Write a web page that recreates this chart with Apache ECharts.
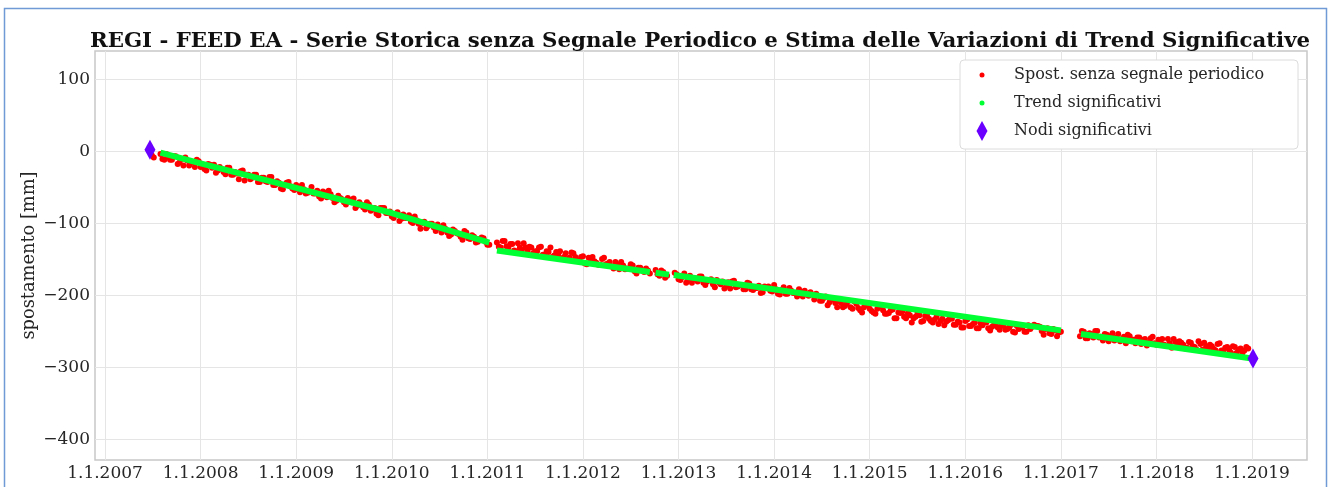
<!DOCTYPE html>
<html><head><meta charset="utf-8">
<script src="https://cdn.jsdelivr.net/npm/echarts@6/dist/echarts.min.js"></script>
<style>html,body{margin:0;padding:0;background:#fff}#c{width:1330px;height:487px}</style>
</head><body><div id="c"></div>
<script>
const titleText = 'REGI - FEED EA - Serie Storica senza Segnale Periodico e Stima delle Variazioni di Trend Significative';
const yName = 'spostamento [mm]';
const nameRed = 'Spost. senza segnale periodico';
const nameGreen = 'Trend significativi';
const nameNodes = 'Nodi significativi';
const xTicks = [2007, 2008, 2009, 2010, 2011, 2012, 2013, 2014, 2015, 2016, 2017, 2018, 2019];
const yTicks = [-400, -300, -200, -100, 0, 100];

const redStart = [[2007.49, -6], [2007.51, -9]];
const redA = [
[2007.58,-4],[2007.62,-12],[2007.66,-8],[2007.70,-12],[2007.74,-7],[2007.78,-16],[2007.82,-20],[2007.86,-13],[2007.90,-16],[2007.94,-22],
[2007.98,-14],[2008.02,-21],[2008.06,-27],[2008.10,-19],[2008.14,-19],[2008.18,-27],[2008.22,-25],[2008.26,-32],[2008.30,-23],[2008.34,-33],
[2008.38,-31],[2008.42,-28],[2008.46,-41],[2008.50,-33],[2008.54,-37],[2008.58,-33],[2008.62,-43],[2008.66,-37],[2008.70,-43],[2008.74,-36],
[2008.78,-47],[2008.82,-44],[2008.86,-53],[2008.90,-44],[2008.94,-49],[2008.98,-54],[2009.02,-50],[2009.06,-47],[2009.10,-59],[2009.14,-55],
[2009.18,-59],[2009.22,-55],[2009.26,-66],[2009.30,-58],[2009.34,-55],[2009.38,-65],[2009.42,-69],[2009.46,-65],[2009.50,-71],[2009.54,-65],
[2009.58,-71],[2009.62,-79],[2009.66,-71],[2009.70,-78],[2009.74,-71],[2009.78,-83],[2009.82,-79],[2009.86,-89],[2009.90,-79],[2009.94,-86],
[2009.98,-84],[2010.02,-93],[2010.06,-85],[2010.10,-94],[2010.14,-93],[2010.18,-89],[2010.22,-100],[2010.26,-96],[2010.30,-108],[2010.34,-98],
[2010.38,-104],[2010.42,-101],[2010.46,-111],[2010.50,-107],[2010.54,-103],[2010.58,-113],[2010.62,-116],[2010.66,-111],[2010.70,-115],[2010.74,-123],
[2010.78,-113],[2010.82,-122],[2010.86,-119],[2010.90,-126],[2010.94,-120],[2010.98,-126],[2011.02,-130]
];
const redA2 = [
[2007.60,-11],[2007.64,-4],[2007.68,-12],[2007.72,-7],[2007.76,-18],[2007.80,-11],[2007.84,-9],[2007.88,-20],[2007.92,-16],[2007.96,-12],
[2008.00,-22],[2008.04,-25],[2008.08,-18],[2008.12,-23],[2008.16,-30],[2008.20,-22],[2008.24,-29],[2008.28,-23],[2008.32,-33],[2008.36,-29],
[2008.40,-39],[2008.44,-27],[2008.48,-33],[2008.52,-39],[2008.56,-33],[2008.60,-43],[2008.64,-37],[2008.68,-42],[2008.72,-36],[2008.76,-47],
[2008.80,-42],[2008.84,-52],[2008.88,-47],[2008.92,-43],[2008.96,-52],[2009.00,-47],[2009.04,-57],[2009.08,-53],[2009.12,-58],[2009.16,-50],
[2009.20,-59],[2009.24,-63],[2009.28,-56],[2009.32,-64],[2009.36,-60],[2009.40,-71],[2009.44,-62],[2009.48,-67],[2009.52,-74],[2009.56,-68],
[2009.60,-66],[2009.64,-76],[2009.68,-74],[2009.72,-81],[2009.76,-74],[2009.80,-81],[2009.84,-87],[2009.88,-79],[2009.92,-79],[2009.96,-86],
[2010.00,-91],[2010.04,-87],[2010.08,-97],[2010.12,-88],[2010.16,-93],[2010.20,-98],[2010.24,-91],[2010.28,-101],[2010.32,-100],[2010.36,-107],
[2010.40,-101],[2010.44,-106],[2010.48,-102],[2010.52,-113],[2010.56,-108],[2010.60,-118],[2010.64,-109],[2010.68,-114],[2010.72,-119],[2010.76,-111],
[2010.80,-121],[2010.84,-117],[2010.88,-127],[2010.92,-122],[2010.96,-121],[2011.00,-130]
];
const redB = [
[2011.10,-127],[2011.14,-134],[2011.18,-125],[2011.22,-134],[2011.26,-129],[2011.30,-139],[2011.34,-134],[2011.38,-128],[2011.42,-139],[2011.46,-134],
[2011.50,-139],[2011.54,-134],[2011.58,-144],[2011.62,-139],[2011.66,-134],[2011.70,-145],[2011.74,-144],[2011.78,-150],[2011.82,-142],[2011.86,-148],
[2011.90,-142],[2011.94,-152],[2011.98,-147],[2012.02,-156],[2012.06,-148],[2012.10,-147],[2012.14,-155],[2012.18,-158],[2012.22,-148],[2012.26,-156],
[2012.30,-160],[2012.34,-154],[2012.38,-164],[2012.42,-159],[2012.46,-163],[2012.50,-157],[2012.54,-167],[2012.58,-162],[2012.62,-166],[2012.66,-163],
[2012.70,-170]
];
const redB2 = [
[2011.12,-133],[2011.16,-125],[2011.20,-132],[2011.24,-129],[2011.28,-138],[2011.32,-128],[2011.36,-137],[2011.40,-134],[2011.44,-133],[2011.48,-142],
[2011.52,-139],[2011.56,-133],[2011.60,-144],[2011.64,-140],[2011.68,-147],[2011.72,-140],[2011.76,-139],[2011.80,-147],[2011.84,-150],[2011.88,-141],
[2011.92,-147],[2011.96,-152],[2012.00,-146],[2012.04,-157],[2012.08,-150],[2012.12,-153],[2012.16,-158],[2012.20,-150],[2012.24,-157],[2012.28,-154],
[2012.32,-163],[2012.36,-157],[2012.40,-154],[2012.44,-164],[2012.48,-163],[2012.52,-159],[2012.56,-170],[2012.60,-162],[2012.64,-168],[2012.68,-166]
];
const redC = [
[2012.76,-165],[2012.80,-173],[2012.84,-168],[2012.88,-173],[2012.96,-169],[2013.00,-178],[2013.04,-175],[2013.08,-183],[2013.12,-173],[2013.16,-178],
[2013.20,-181],[2013.24,-174],[2013.28,-186],[2013.32,-179],[2013.36,-185],[2013.40,-179],[2013.44,-185],[2013.48,-191],[2013.52,-182],[2013.56,-181],
[2013.60,-189],[2013.64,-186],[2013.68,-192],[2013.72,-183],[2013.76,-192],[2013.80,-190],[2013.84,-187],[2013.88,-196],[2013.92,-190],[2013.96,-194],
[2014.00,-186],[2014.04,-198],[2014.08,-193],[2014.12,-198],[2014.16,-190],[2014.20,-197],[2014.24,-202],[2014.28,-195],[2014.32,-194],[2014.36,-201],
[2014.40,-199],[2014.44,-198],[2014.48,-208],[2014.52,-204],[2014.56,-214],[2014.60,-204],[2014.64,-211],[2014.68,-208],[2014.72,-217],[2014.76,-212],
[2014.80,-217],[2014.84,-209],[2014.88,-218],[2014.92,-224],[2014.96,-214],[2015.00,-219],[2015.04,-224],[2015.08,-219],[2015.12,-215],[2015.16,-226],
[2015.20,-225],[2015.24,-220],[2015.28,-232],[2015.32,-225],[2015.36,-230],[2015.40,-225],[2015.44,-238],[2015.48,-230],[2015.52,-228],[2015.56,-236],
[2015.60,-227],[2015.64,-236],[2015.68,-234],[2015.72,-240],[2015.76,-233],[2015.80,-237],[2015.84,-232],[2015.88,-241],[2015.92,-237],[2015.96,-245],
[2016.00,-236],[2016.04,-243],[2016.08,-240],[2016.12,-246],[2016.16,-239],[2016.20,-236],[2016.24,-246],[2016.28,-244],[2016.32,-240],[2016.36,-248],
[2016.40,-243],[2016.44,-247],[2016.48,-241],[2016.52,-252],[2016.56,-247],[2016.60,-244],[2016.64,-251],[2016.68,-247],[2016.72,-241],[2016.76,-243],
[2016.80,-250],[2016.84,-247],[2016.88,-253],[2016.92,-247],[2016.96,-257],[2017.00,-251]
];
const redC2 = [
[2012.78,-171],[2012.82,-166],[2012.86,-176],[2012.98,-171],[2013.02,-179],[2013.06,-170],[2013.10,-178],[2013.14,-183],[2013.18,-177],[2013.22,-174],
[2013.26,-183],[2013.30,-181],[2013.34,-178],[2013.38,-189],[2013.42,-182],[2013.46,-181],[2013.50,-187],[2013.54,-191],[2013.58,-180],[2013.62,-188],
[2013.66,-186],[2013.70,-192],[2013.74,-184],[2013.78,-193],[2013.82,-190],[2013.86,-197],[2013.90,-188],[2013.94,-188],[2013.98,-195],[2014.02,-192],
[2014.06,-199],[2014.10,-189],[2014.14,-198],[2014.18,-194],[2014.22,-197],[2014.26,-192],[2014.30,-202],[2014.34,-198],[2014.38,-196],[2014.42,-206],
[2014.46,-201],[2014.50,-208],[2014.54,-202],[2014.58,-210],[2014.62,-206],[2014.66,-217],[2014.70,-211],[2014.74,-215],[2014.78,-208],[2014.82,-219],
[2014.86,-212],[2014.90,-221],[2014.94,-217],[2014.98,-214],[2015.02,-222],[2015.06,-226],[2015.10,-216],[2015.14,-221],[2015.18,-226],[2015.22,-221],
[2015.26,-232],[2015.30,-224],[2015.34,-223],[2015.38,-232],[2015.42,-228],[2015.46,-232],[2015.50,-225],[2015.54,-237],[2015.58,-229],[2015.62,-233],
[2015.66,-238],[2015.70,-230],[2015.74,-236],[2015.78,-242],[2015.82,-235],[2015.86,-233],[2015.90,-241],[2015.94,-238],[2015.98,-245],[2016.02,-234],
[2016.06,-243],[2016.10,-238],[2016.14,-246],[2016.18,-242],[2016.22,-238],[2016.26,-249],[2016.30,-242],[2016.34,-245],[2016.38,-241],[2016.42,-248],
[2016.46,-245],[2016.50,-251],[2016.54,-243],[2016.58,-245],[2016.62,-251],[2016.66,-242],[2016.70,-244],[2016.74,-243],[2016.78,-244],[2016.82,-255],
[2016.86,-246],[2016.90,-254],[2016.94,-249],[2016.98,-252]
];
const redD = [
[2017.20,-257],[2017.24,-251],[2017.28,-260],[2017.32,-254],[2017.36,-250],[2017.40,-259],[2017.44,-263],[2017.48,-255],[2017.52,-257],[2017.56,-263],
[2017.60,-254],[2017.64,-261],[2017.68,-267],[2017.72,-257],[2017.76,-262],[2017.80,-259],[2017.84,-268],[2017.88,-261],[2017.92,-266],[2017.96,-258],
[2018.00,-269],[2018.04,-265],[2018.08,-269],[2018.12,-261],[2018.16,-273],[2018.20,-265],[2018.24,-264],[2018.28,-269],[2018.32,-273],[2018.36,-266],
[2018.40,-272],[2018.44,-264],[2018.48,-276],[2018.52,-271],[2018.56,-269],[2018.60,-275],[2018.64,-268],[2018.68,-277],[2018.72,-273],[2018.76,-276],
[2018.80,-271],[2018.84,-280],[2018.88,-274],[2018.92,-277],[2018.96,-274]
];
const redD2 = [
[2017.22,-250],[2017.26,-260],[2017.30,-253],[2017.34,-259],[2017.38,-250],[2017.42,-258],[2017.46,-254],[2017.50,-264],[2017.54,-253],[2017.58,-259],
[2017.62,-264],[2017.66,-258],[2017.70,-255],[2017.74,-264],[2017.78,-267],[2017.82,-259],[2017.86,-262],[2017.90,-270],[2017.94,-260],[2017.98,-267],
[2018.02,-262],[2018.06,-261],[2018.10,-270],[2018.14,-267],[2018.18,-261],[2018.22,-271],[2018.26,-266],[2018.30,-274],[2018.34,-265],[2018.38,-271],
[2018.42,-276],[2018.46,-268],[2018.50,-266],[2018.54,-274],[2018.58,-271],[2018.62,-277],[2018.66,-267],[2018.70,-277],[2018.74,-272],[2018.78,-280],
[2018.82,-272],[2018.86,-276],[2018.90,-280],[2018.94,-272]
];
const trend = [
[2007.58,-2],[2008.00,-17],[2009.00,-51],[2010.00,-86],[2011.02,-127],[2011.06,'-'],
[2011.10,-138],[2012.70,-168],[2012.73,'-'],
[2012.76,-169],[2012.90,-171.6],[2012.92,'-'],[2012.95,-172.2],[2017.00,-249],[2017.10,'-'],
[2017.21,-254],[2019.00,-288]
];
const nodes = [[2007.47, 2], [2019.01, -288]];

const FONT = 'DejaVu Serif';
const chart = echarts.init(document.getElementById('c'), null, {renderer: 'canvas'});
const legendCommon = {orient: 'horizontal', padding: 0, selectedMode: false,
  textStyle: {fontFamily: FONT, fontSize: 16, color: '#262626'}};
chart.setOption({
  animation: false,
  backgroundColor: '#fff',
  title: {text: titleText, left: 85, top: 26,
    textStyle: {fontFamily: FONT, fontWeight: 'bold', fontSize: 21.3, color: '#111'}},
  grid: {left: 95, right: 23, top: 51, bottom: 27, show: true, borderColor: '#c8c8c8', borderWidth: 1.5, backgroundColor: '#fff', containLabel: false},
  xAxis: {type: 'value', min: 2006.895, max: 2019.575,
    axisLine: {show: false}, axisTick: {show: false, customValues: xTicks},
    axisLabel: {customValues: xTicks, formatter: v => '1.1.' + v, fontFamily: FONT, fontSize: 17, color: '#262626', margin: 5},
    splitLine: {show: true, lineStyle: {color: '#e5e5e5', width: 1}}},
  yAxis: {type: 'value', min: -429, max: 139, name: yName, nameLocation: 'middle', nameGap: 57, nameMoveOverlap: false,
    nameTextStyle: {fontFamily: FONT, fontSize: 17.8, color: '#262626'},
    axisLine: {show: false}, axisTick: {show: false, customValues: yTicks},
    axisLabel: {customValues: yTicks, formatter: v => v < 0 ? '\u2212' + (-v) : String(v), fontFamily: FONT, fontSize: 17, color: '#262626', margin: 5},
    splitLine: {show: true, lineStyle: {color: '#e5e5e5', width: 1}}},
  legend: [
    Object.assign({}, legendCommon, {data: [{name: nameRed, icon: 'circle'}], left: 979.5, top: 67, itemWidth: 5, itemHeight: 5,
      textStyle: Object.assign({}, legendCommon.textStyle, {padding: [0, 0, 0, 24.5]})}),
    Object.assign({}, legendCommon, {data: [{name: nameGreen, icon: 'circle'}], left: 979.5, top: 95, itemWidth: 5, itemHeight: 5,
      textStyle: Object.assign({}, legendCommon.textStyle, {padding: [0, 0, 0, 24.5]})}),
    Object.assign({}, legendCommon, {data: [{name: nameNodes, icon: 'diamond'}], left: 976.5, top: 121, itemWidth: 11, itemHeight: 20,
      textStyle: Object.assign({}, legendCommon.textStyle, {padding: [0, 0, 0, 21.5]})})
  ],
  graphic: [
    {type: 'rect', z: 3, shape: {x: 960, y: 60, width: 338, height: 89, r: 4}, style: {fill: '#fff', stroke: '#dcdcdc', lineWidth: 1}},
    {type: 'rect', z: 100, silent: true, shape: {x: 4.5, y: 8.5, width: 1322, height: 520}, style: {fill: 'none', stroke: '#6f9ad6', lineWidth: 1.5}}
  ],
  series: [
    {name: nameRed, type: 'scatter', data: redStart.concat(redA, redA2, redB, redB2, redC, redC2, redD, redD2), symbol: 'circle', symbolSize: 6,
      itemStyle: {color: '#ff0000', opacity: 1}, z: 2},
    {name: nameGreen, type: 'line', data: trend, showSymbol: false, symbol: 'circle', connectNulls: false,
      lineStyle: {color: '#00ff33', width: 6}, itemStyle: {color: '#00ff33'}, z: 3},
    {name: nameNodes, type: 'scatter', data: nodes, symbol: 'diamond', symbolSize: [11, 20],
      itemStyle: {color: '#6a00ff', opacity: 1}, z: 4}
  ]
});
</script></body></html>
